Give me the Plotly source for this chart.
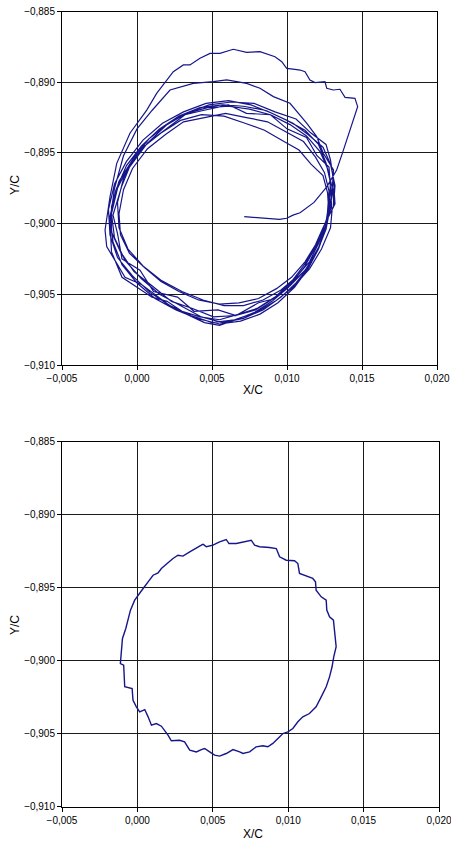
import plotly.graph_objects as go

# ---------------- data: top panel (multi-loop trajectory) ----------------
start_x = [0.00715, 0.0085, 0.0095, 0.00998, 0.0104, 0.01087, 0.0118, 0.01265, 0.01331, 0.0137, 0.01398, 0.0143,
           0.01471, 0.01453, 0.01387, 0.01353, 0.01309, 0.01265, 0.01253, 0.01187, 0.01153, 0.0112, 0.01087,
           0.01053, 0.00998, 0.00965, 0.0092, 0.0082, 0.00731, 0.00642, 0.00553, 0.00487, 0.0042, 0.00353,
           0.00309, 0.00242, 0.00175, 0.00131, 0.00065, -0.00047, -0.00135, -0.0018, -0.00213, -0.00202,
           -0.00135, -0.0008, 0.0003, 0.0012, 0.0022, 0.0033, 0.0045, 0.0055, 0.0066, 0.0078, 0.0090, 0.0101,
           0.0112, 0.0121, 0.0127, 0.0130]
start_y = [-0.89951, -0.8996, -0.8997, -0.89962, -0.8994, -0.89923, -0.8985, -0.8974, -0.89621, -0.8950, -0.89409,
           -0.8929, -0.89173, -0.89114, -0.89107, -0.8905, -0.89055, -0.89043, -0.88996, -0.89003, -0.88984,
           -0.88926, -0.88914, -0.88909, -0.88902, -0.88855, -0.8882, -0.88784, -0.88789, -0.88767, -0.88796,
           -0.88796, -0.88831, -0.88878, -0.88878, -0.88926, -0.8902, -0.89079, -0.89197, -0.89361, -0.89574,
           -0.8981, -0.90045, -0.90163, -0.90281, -0.9038, -0.9043, -0.9050, -0.9058, -0.9064, -0.9070, -0.9072,
           -0.9068, -0.9063, -0.9055, -0.9045, -0.9030, -0.9013, -0.8995, -0.8978]

loop2_x = [0.0131, 0.01242, 0.01198, 0.01131, 0.0102, 0.00909, 0.0082, 0.00731, 0.00598, 0.00509, 0.00375,
           0.0022, 0.0010, 0.0000, -0.0009, -0.0015, -0.0018, -0.0017, -0.0010, 0.0000, 0.0010, 0.0020, 0.0030,
           0.0042, 0.0055, 0.0068, 0.0080, 0.0092, 0.0103, 0.0113, 0.0122, 0.0128, 0.0131]
loop2_y = [-0.8962, -0.89503, -0.89385, -0.8929, -0.89149, -0.89102, -0.89043, -0.89008, -0.88984, -0.88996,
           -0.89008, -0.89055, -0.8920, -0.8933, -0.8952, -0.8975, -0.8998, -0.9020, -0.9038, -0.9045, -0.9052,
           -0.9055, -0.9062, -0.9066, -0.9068, -0.9064, -0.9060, -0.9052, -0.9041, -0.9027, -0.9010, -0.8992,
           -0.8975]

loop3_x = [0.0131, 0.0132, 0.0129, 0.0124, 0.0114, 0.0104, 0.0090, 0.0076, 0.0061, 0.0046, 0.0031, 0.0017, 0.0004,
           -0.0007, -0.0015, -0.0019, -0.0018, -0.0013, -0.0003, 0.0009, 0.0022, 0.0036, 0.0050, 0.0065, 0.0079,
           0.0092, 0.0104, 0.0115, 0.0123, 0.0129]
loop3_y = [-0.8988, -0.8973, -0.8958, -0.8946, -0.8937, -0.8929, -0.8922, -0.8916, -0.8913, -0.8915, -0.8921,
           -0.8929, -0.8941, -0.8956, -0.8972, -0.8990, -0.9008, -0.9024, -0.9037, -0.9049, -0.9058, -0.9065,
           -0.9070, -0.9068, -0.9063, -0.9055, -0.9045, -0.9032, -0.9018, -0.9003]

loop4_x = [0.0130, 0.0129, 0.0128, 0.0120, 0.0113, 0.0100, 0.0089, 0.0073, 0.0061, 0.0044, 0.0032, 0.0017, 0.0007,
           -0.0005, -0.0010, -0.0016, -0.0013, -0.0010, 0.0002, 0.0011, 0.0027, 0.0038, 0.0054, 0.0066, 0.0081,
           0.0092, 0.0105, 0.0113, 0.0122, 0.0125]
loop4_y = [-0.8991, -0.8976, -0.8960, -0.8952, -0.8939, -0.8933, -0.8923, -0.8922, -0.8916, -0.8920, -0.8923,
           -0.8935, -0.8943, -0.8960, -0.8973, -0.8994, -0.9007, -0.9025, -0.9033, -0.9048, -0.9052, -0.9062,
           -0.9061, -0.9065, -0.9056, -0.9053, -0.9040, -0.9032, -0.9015, -0.9006]

loop5_x = [0.0127, 0.0128, 0.0125, 0.0119, 0.0111, 0.0099, 0.0087, 0.0073, 0.0059, 0.0045, 0.0031, 0.0019, 0.0007,
           -0.0003, -0.0009, -0.0012, -0.0011, -0.0005, 0.0005, 0.0016, 0.0028, 0.0041, 0.0055, 0.0068, 0.0081,
           0.0093, 0.0103, 0.0112, 0.0119, 0.0124]
loop5_y = [-0.8992, -0.8977, -0.8964, -0.8953, -0.8942, -0.8935, -0.8928, -0.8925, -0.8922, -0.8925, -0.8928,
           -0.8937, -0.8947, -0.8961, -0.8976, -0.8993, -0.9008, -0.9021, -0.9031, -0.9041, -0.9048, -0.9054,
           -0.9057, -0.9056, -0.9053, -0.9046, -0.9038, -0.9027, -0.9015, -0.9003]

loop6_x = [0.0132, 0.0131, 0.0129, 0.0126, 0.0116, 0.0106, 0.0092, 0.0078, 0.0063, 0.0048, 0.0033, 0.0020, 0.0008,
           -0.0003, -0.0012, -0.0017, -0.0017, -0.0011, -0.0002, 0.0010, 0.0023, 0.0037, 0.0051, 0.0066, 0.0079,
           0.0091, 0.0102, 0.0112, 0.0120, 0.0126]
loop6_y = [-0.8986, -0.8970, -0.8955, -0.8944, -0.8936, -0.8926, -0.8921, -0.8915, -0.8914, -0.8916, -0.8922,
           -0.8930, -0.8942, -0.8955, -0.8970, -0.8988, -0.9006, -0.9020, -0.9034, -0.9044, -0.9055, -0.9060,
           -0.9066, -0.9065, -0.9061, -0.9053, -0.9044, -0.9033, -0.9020, -0.9004]

loop7_x = [0.0128, 0.0127, 0.0124, 0.0116, 0.0108, 0.0098, 0.0085, 0.0072, 0.0058, 0.0043, 0.0029, 0.0016, 0.0004,
           -0.0006, -0.0013, -0.0017, -0.0015, -0.0008, 0.0003, 0.0015, 0.0029, 0.0043, 0.0057, 0.0071, 0.0084,
           0.0096, 0.0106, 0.0115, 0.0121, 0.0125]
loop7_y = [-0.8993, -0.8978, -0.8966, -0.8958, -0.8948, -0.8942, -0.8934, -0.8929, -0.8924, -0.8923, -0.8927,
           -0.8936, -0.8946, -0.8960, -0.8975, -0.8993, -0.9010, -0.9026, -0.9039, -0.9050, -0.9058, -0.9066,
           -0.9070, -0.9067, -0.9061, -0.9052, -0.9042, -0.9030, -0.9017, -0.9005]

loop8_x = [0.0129, 0.0130, 0.0127, 0.0122, 0.0113, 0.0102, 0.0089, 0.0075, 0.0061, 0.0047, 0.0033, 0.0020, 0.0008,
           -0.0002, -0.0009, -0.0013, -0.0012, -0.0006, 0.0004, 0.0016, 0.0030, 0.0044, 0.0058, 0.0071, 0.0084,
           0.0096, 0.0106, 0.0115, 0.0121, 0.0126]
loop8_y = [-0.8990, -0.8974, -0.8961, -0.8949, -0.8938, -0.8930, -0.8923, -0.8919, -0.8917, -0.8918, -0.8922,
           -0.8930, -0.8940, -0.8953, -0.8968, -0.8985, -0.9003, -0.9018, -0.9030, -0.9040, -0.9048, -0.9054,
           -0.9058, -0.9058, -0.9054, -0.9047, -0.9038, -0.9027, -0.9014, -0.9001]

loop9_x = [0.0128, 0.0129, 0.0126, 0.0121, 0.0112, 0.0100, 0.0086, 0.0071, 0.0057, 0.0042, 0.0028, 0.0015, 0.0003,
           -0.0007, -0.0014, -0.0018, -0.0016, -0.0010, 0.0000, 0.0012, 0.0026, 0.0040, 0.0055, 0.0069, 0.0082,
           0.0094, 0.0105, 0.0114, 0.0121, 0.0126]
loop9_y = [-0.8987, -0.8971, -0.8957, -0.8944, -0.8934, -0.8927, -0.8920, -0.8917, -0.8916, -0.8918, -0.8924,
           -0.8933, -0.8945, -0.8959, -0.8976, -0.8995, -0.9013, -0.9029, -0.9042, -0.9053, -0.9061, -0.9067,
           -0.9071, -0.9069, -0.9064, -0.9056, -0.9045, -0.9032, -0.9018, -0.9003]

# ---------------- data: bottom panel (single loop) ----------------
single_x = [0.00435, 0.00457, 0.00501, 0.00545, 0.00589, 0.00607, 0.00656, 0.00700, 0.00755, 0.00777, 0.00810,
            0.00876, 0.00921, 0.00943, 0.00987, 0.01042, 0.01064, 0.01075, 0.01119, 0.01163, 0.01181, 0.01185,
            0.01219, 0.01252, 0.01256, 0.01274, 0.01300, 0.01307, 0.01318, 0.01302, 0.01291, 0.01274, 0.01252,
            0.01219, 0.01185, 0.01141, 0.01097, 0.01064, 0.01031, 0.00998, 0.00965, 0.00932, 0.00898, 0.00865,
            0.00832, 0.00788, 0.00744, 0.00700, 0.00678, 0.00634, 0.00589, 0.00545, 0.00512, 0.00479, 0.00446,
            0.00424, 0.00391, 0.00347, 0.00313, 0.00280, 0.00225, 0.00203, 0.00181, 0.00159, 0.00126, 0.00093,
            0.00071, 0.00049, 0.00015, -0.00007, -0.00029, -0.00035, -0.00084, -0.00091, -0.00113, -0.00106,
            -0.00099, -0.00077, -0.00062, -0.00046, -0.00018, 0.00011, 0.00038, 0.00071, 0.00104, 0.00137,
            0.00159, 0.00203, 0.00236, 0.00269, 0.00302, 0.00347, 0.00391, 0.00424, 0.00435]
single_y = [-0.89203, -0.89221, -0.89210, -0.89187, -0.89171, -0.89199, -0.89199, -0.89187, -0.89176, -0.89210,
            -0.89221, -0.89226, -0.89233, -0.89290, -0.89313, -0.89317, -0.89336, -0.89404, -0.89422, -0.89438,
            -0.89461, -0.89518, -0.89564, -0.89587, -0.89655, -0.89701, -0.89724, -0.89792, -0.89906, -0.89975,
            -0.90043, -0.90112, -0.90180, -0.90249, -0.90317, -0.90363, -0.90386, -0.90420, -0.90466, -0.90489,
            -0.90500, -0.90534, -0.90568, -0.90591, -0.90584, -0.90591, -0.90626, -0.90637, -0.90626, -0.90610,
            -0.90637, -0.90655, -0.90648, -0.90626, -0.90603, -0.90610, -0.90626, -0.90614, -0.90557, -0.90546,
            -0.90550, -0.90511, -0.90477, -0.90450, -0.90432, -0.90443, -0.90386, -0.90336, -0.90352, -0.90317,
            -0.90272, -0.90192, -0.90180, -0.90032, -0.90021, -0.89941, -0.89849, -0.89781, -0.89712, -0.89655,
            -0.89587, -0.89541, -0.89507, -0.89461, -0.89416, -0.89400, -0.89370, -0.89331, -0.89301, -0.89279,
            -0.89285, -0.89256, -0.89233, -0.89210, -0.89203]

x_ticks = [-0.005, 0.000, 0.005, 0.010, 0.015, 0.020]
y_ticks = [-0.910, -0.905, -0.900, -0.895, -0.890, -0.885]
x_title = "X/C"
y_title = "Y/C"

# assemble top trajectory
traj_x = start_x + loop2_x + loop3_x + loop4_x + loop5_x + loop6_x + loop7_x + loop8_x + loop9_x
traj_y = start_y + loop2_y + loop3_y + loop4_y + loop5_y + loop6_y + loop7_y + loop8_y + loop9_y

W, H = 451, 844
LINE = "#16168a"

fig = go.Figure()
fig.add_trace(go.Scatter(x=traj_x, y=traj_y, mode="lines", line=dict(color=LINE, width=1.2),
                         xaxis="x", yaxis="y", showlegend=False, hoverinfo="skip"))
fig.add_trace(go.Scatter(x=single_x, y=single_y, mode="lines", line=dict(color=LINE, width=1.4),
                         xaxis="x2", yaxis="y2", showlegend=False, hoverinfo="skip"))

def px_dom_x(a, b):
    return [a / W, b / W]

def px_dom_y(top, bottom):
    return [1 - bottom / H, 1 - top / H]

axis_common = dict(
    showgrid=True, gridcolor="#1a1a1a", gridwidth=1,
    showline=True, linecolor="black", linewidth=1, mirror=True,
    ticks="outside", ticklen=4, tickcolor="black", tickwidth=1,
    tickformat=".3f", zeroline=False, automargin=False,
    tickfont=dict(family="Liberation Sans, Arial, sans-serif", size=10, color="black"),
)

fig.update_layout(
    width=W, height=H,
    margin=dict(l=0, r=0, t=0, b=0, autoexpand=False),
    paper_bgcolor="white", plot_bgcolor="white",
    separators=", ",
    font=dict(family="Liberation Sans, Arial, sans-serif", size=10, color="black"),
    xaxis=dict(domain=px_dom_x(62, 437), range=[x_ticks[0], x_ticks[-1]], tickvals=x_ticks,
               anchor="y", ticklabeloverflow="allow", **axis_common),
    yaxis=dict(domain=px_dom_y(11.5, 365), range=[y_ticks[0], y_ticks[-1]], tickvals=y_ticks,
               anchor="x", **axis_common),
    xaxis2=dict(domain=px_dom_x(62, 439), range=[x_ticks[0], x_ticks[-1]], tickvals=x_ticks,
                anchor="y2", ticklabeloverflow="allow", **axis_common),
    yaxis2=dict(domain=px_dom_y(441.5, 806.5), range=[y_ticks[0], y_ticks[-1]], tickvals=y_ticks,
                anchor="x2", **axis_common),
)

title_font = dict(family="Liberation Sans, Arial, sans-serif", size=12, color="black")
fig.add_annotation(text=x_title, xref="paper", yref="paper", x=253 / W, y=1 - 390 / H,
                   showarrow=False, font=title_font, xanchor="center", yanchor="middle")
fig.add_annotation(text=x_title, xref="paper", yref="paper", x=253 / W, y=1 - 834 / H,
                   showarrow=False, font=title_font, xanchor="center", yanchor="middle")
fig.add_annotation(text=y_title, xref="paper", yref="paper", x=15 / W, y=1 - 185 / H, textangle=-90,
                   showarrow=False, font=title_font, xanchor="center", yanchor="middle")
fig.add_annotation(text=y_title, xref="paper", yref="paper", x=15 / W, y=1 - 625 / H, textangle=-90,
                   showarrow=False, font=title_font, xanchor="center", yanchor="middle")

fig.write_html("out.html")
